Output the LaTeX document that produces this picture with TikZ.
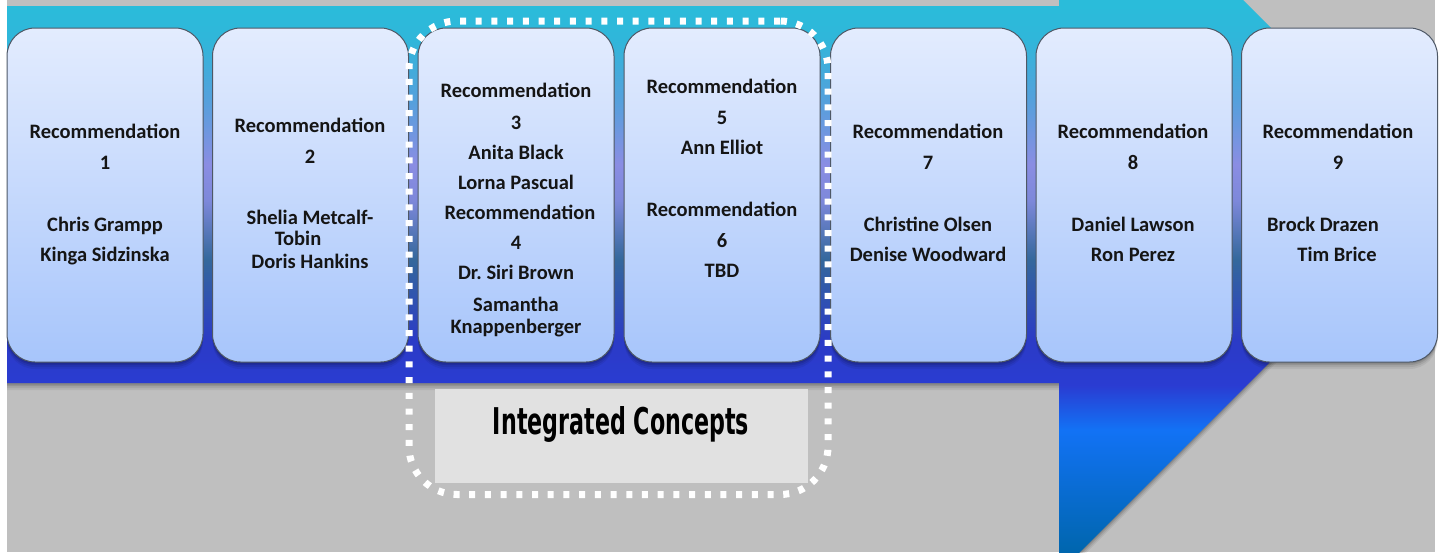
\documentclass[tikz,border=0pt]{standalone}
\usepackage{fontspec}
\usepackage{graphicx}
\setmainfont{Carlito}
\newfontfamily\icfont{DejaVu Sans}
\usetikzlibrary{shadows}
\frenchspacing
\definecolor{bggray}{HTML}{BFBFBF}
\definecolor{boxtop}{HTML}{E3ECFE}
\definecolor{boxbot}{HTML}{A7C5FB}
\definecolor{boxline}{HTML}{4E5866}
\definecolor{txtcol}{HTML}{151515}
\definecolor{icfill}{HTML}{E1E1E1}
\definecolor{s0}{HTML}{0060A6}
\definecolor{s1}{HTML}{0066AE}
\definecolor{s2}{HTML}{1272F5}
\definecolor{s3}{HTML}{2A3CD2}
\definecolor{s4}{HTML}{2B3BC6}
\definecolor{s5}{HTML}{34689C}
\definecolor{s6}{HTML}{7D88DA}
\definecolor{s7}{HTML}{8A8DE3}
\definecolor{s8}{HTML}{55A0DC}
\definecolor{s9}{HTML}{30B6DA}
\definecolor{s10}{HTML}{2ABCDA}
\pgfdeclareverticalshading{bandshade}{100bp}{color(0bp)=(s0); color(25bp)=(s0); color(26.4bp)=(s1); color(34.45bp)=(s2); color(37.4bp)=(s3); color(40.4bp)=(s4); color(45.7bp)=(s5); color(49.6bp)=(s6); color(52bp)=(s7); color(56.2bp)=(s8); color(60.2bp)=(s9); color(62.5bp)=(s10); color(75bp)=(s10); color(100bp)=(s10)}
\begin{document}
\begin{tikzpicture}[x=1pt,y=-1pt,
  softshadow/.style={
    general shadow={fill=black,opacity=.10,shadow yshift=-1.5pt},
    general shadow={fill=black,opacity=.10,shadow yshift=-3pt},
    general shadow={fill=black,opacity=.08,shadow yshift=-5pt},
    general shadow={fill=black,opacity=.06,shadow yshift=-7pt}},
  recbox/.style={softshadow, draw=boxline, line width=1pt, rounded corners=28pt,
    top color=boxtop, bottom color=boxbot, minimum width=196pt, minimum height=334pt, inner sep=0pt},
  lbl/.style={font=\bfseries\fontsize{20.5}{24}\selectfont, text=txtcol, inner sep=0pt,
    text height=13pt, text depth=0pt, anchor=center},
  icbox/.style={fill=icfill, minimum width=373pt, minimum height=94pt, inner sep=0pt},
  ictext/.style={font=\icfont\bfseries, text=black, inner sep=0pt, anchor=base},
  dotframe/.style={draw=white, line width=7pt, dash pattern=on 6pt off 9.7pt, rounded corners=48pt,
    minimum width=419pt, minimum height=473.5pt, inner sep=0pt}
]
\useasboundingbox (0,0) rectangle (1440,552);
\clip (0,0) rectangle (1440,552);
\fill[white] (0,0) rectangle (1440,552);
\fill[bggray] (7,0) rectangle (1435,552);
% big arrow
\shade[softshadow, shading=bandshade] (7,6) -- (1059,6) -- (1059,-184) -- (1437.5,194.5) -- (1059,573) -- (1059,383) -- (7,383) -- cycle;
% boxes
\node[recbox] (b1) at (105,195) {};
\node[recbox] (b2) at (310.5,195) {};
\node[recbox] (b3) at (516,195) {};
\node[recbox] (b4) at (722,195) {};
\node[recbox] (b5) at (928.5,195) {};
\node[recbox] (b6) at (1134,195) {};
\node[recbox] (b7) at (1339.5,195) {};
% box 1
\node[lbl] (t1a) at (105,132) {Recommendation};
\node[lbl] (t1b) at (105,163) {1};
\node[lbl] (t1c) at (105,225) {Chris Grampp};
\node[lbl] (t1d) at (105,255) {Kinga Sidzinska};
% box 2
\node[lbl] (t2a) at (310,126) {Recommendation};
\node[lbl] (t2b) at (310,157) {2};
\node[lbl] (t2c) at (310,218) {Shelia Metcalf-};
\node[lbl] (t2d) at (298,239) {Tobin};
\node[lbl] (t2e) at (310,262) {Doris Hankins};
% box 3
\node[lbl] (t3a) at (516,91) {Recommendation};
\node[lbl] (t3b) at (516,123) {3};
\node[lbl] (t3c) at (516,153) {Anita Black};
\node[lbl] (t3d) at (516,183) {Lorna Pascual};
\node[lbl] (t3e) at (520,213) {Recommendation};
\node[lbl] (t3f) at (516,243) {4};
\node[lbl] (t3g) at (516,273) {Dr. Siri Brown};
\node[lbl] (t3h) at (516,305) {Samantha};
\node[lbl] (t3i) at (516,327) {Knappenberger};
% box 4
\node[lbl] (t4a) at (722,87) {Recommendation};
\node[lbl] (t4b) at (722,118) {5};
\node[lbl] (t4c) at (722,148) {Ann Elliot};
\node[lbl] (t4d) at (722,210) {Recommendation};
\node[lbl] (t4e) at (722,241) {6};
\node[lbl] (t4f) at (722,271) {TBD};
% box 5
\node[lbl] (t5a) at (928,132) {Recommendation};
\node[lbl] (t5b) at (928,163) {7};
\node[lbl] (t5c) at (928,225) {Christine Olsen};
\node[lbl] (t5d) at (928,255) {Denise Woodward};
% box 6
\node[lbl] (t6a) at (1133,132) {Recommendation};
\node[lbl] (t6b) at (1133,163) {8};
\node[lbl] (t6c) at (1133,225) {Daniel Lawson};
\node[lbl] (t6d) at (1133,255) {Ron Perez};
% box 7
\node[lbl] (t7a) at (1338,132) {Recommendation};
\node[lbl] (t7b) at (1338,163) {9};
\node[lbl] (t7c) at (1323,225) {Brock Drazen};
\node[lbl] (t7d) at (1337,255) {Tim Brice};
% integrated concepts
\node[icbox] (ic) at (621.5,436) {};
\node[ictext] (ict) at (621,434) {\resizebox{256pt}{28pt}{Integrated Concepts}};
\node[dotframe] (grp) at (618.5,257.75) {};
\end{tikzpicture}
\end{document}
